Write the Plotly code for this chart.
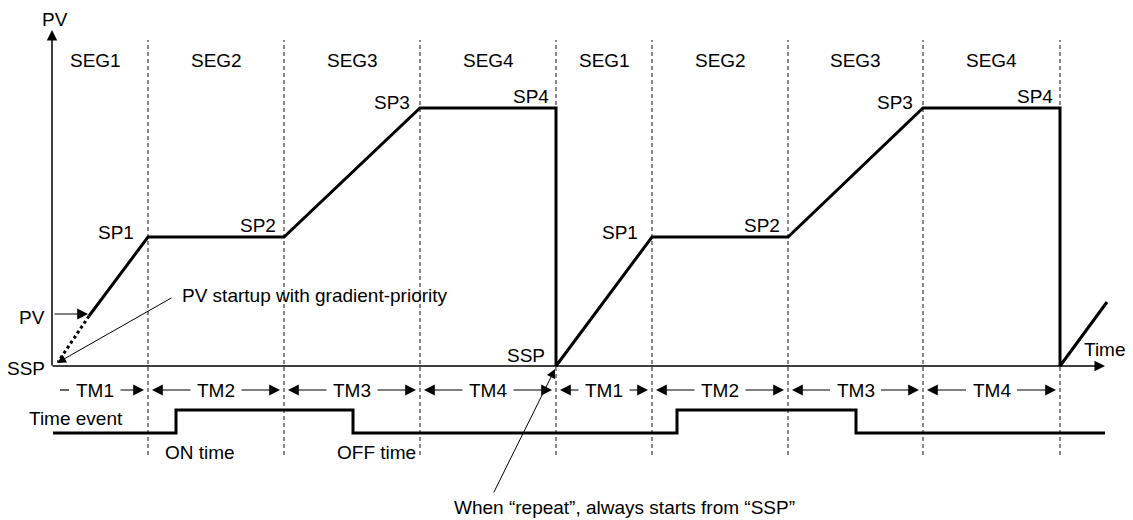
import plotly.graph_objects as go

# ---------------- data ----------------
seg_bounds = [0, 96, 232, 368, 504, 600, 736, 871, 1008]       # time at segment ends
seg_names = ["SEG1", "SEG2", "SEG3", "SEG4", "SEG1", "SEG2", "SEG3", "SEG4"]
tm_names = ["TM1", "TM2", "TM3", "TM4", "TM1", "TM2", "TM3", "TM4"]

pv_time = [37, 96, 232, 368, 504, 504, 600, 736, 871, 1008, 1008, 1055]
pv_value = [50, 129, 129, 258, 258, 0, 129, 129, 258, 258, 0, 64]
pv_start = [37, 50]           # PV at start
ssp_value = 0

sp_labels = ["SP1", "SP2", "SP3", "SP4", "SP1", "SP2", "SP3", "SP4"]
sp_time = [96, 232, 368, 504, 600, 736, 871, 1008]
sp_value = [129, 129, 258, 258, 129, 129, 258, 258]

event_time = [1, 124, 124, 301, 301, 625, 625, 804, 804, 1053]
event_state = [0, 0, 1, 1, 0, 0, 1, 1, 0, 0]
EV_LOW, EV_HIGH = -67, -44

FONT = dict(family="Liberation Sans, Arial, sans-serif", size=19, color="black")

fig = go.Figure()

# segment boundary dashed lines
for t in seg_bounds[1:]:
    fig.add_trace(go.Scatter(x=[t, t], y=[-89, 326], mode="lines",
                             line=dict(color="#111", width=1, dash="4px,3px"),
                             hoverinfo="skip", showlegend=False))

# dotted startup line
fig.add_trace(go.Scatter(x=[pv_start[0], 6], y=[pv_start[1], 4], mode="lines",
                         line=dict(color="black", width=3, dash="3px,3px"),
                         hoverinfo="skip", showlegend=False))

# PV profile
fig.add_trace(go.Scatter(x=pv_time, y=pv_value, mode="lines",
                         line=dict(color="black", width=3),
                         hoverinfo="skip", showlegend=False))

# time event
fig.add_trace(go.Scatter(x=event_time,
                         y=[EV_HIGH if s else EV_LOW for s in event_state],
                         mode="lines", line=dict(color="black", width=3),
                         hoverinfo="skip", showlegend=False))

ann = []

def arrow(x0, y0, x1, y1, w=1.5, size=1.2):
    ann.append(dict(x=x1, y=y1, ax=x0, ay=y0, xref="x", yref="y", axref="x", ayref="y",
                    text="", showarrow=True, arrowhead=2, arrowsize=size, arrowwidth=w,
                    arrowcolor="black", standoff=0, startstandoff=0))

def label(text, x, y, xanchor="center"):
    ann.append(dict(x=x, y=y, xref="x", yref="y", text=text, showarrow=False,
                    xanchor=xanchor, yanchor="middle", font=FONT))

# axes
arrow(0, -1, 0, 336, w=1.5, size=1.4)
arrow(-1, ssp_value, 1053, ssp_value, w=1.5, size=1.4)
label("PV", 3, 347)
label("Time", 1053, 17)

# segment labels and TM arrows
for i, name in enumerate(seg_names):
    a, b = seg_bounds[i], seg_bounds[i + 1]
    c = (a + b) / 2 if i > 0 else 43
    label(name, c, 306)
    label(tm_names[i], c, -24)
    if i == 0:
        fig.add_trace(go.Scatter(x=[8, 17], y=[-24, -24], mode="lines",
                                 line=dict(color="black", width=1.2),
                                 hoverinfo="skip", showlegend=False))
    else:
        arrow(c - 24, -24, a + 4, -24, w=1.2, size=1.8)
    arrow(c + 24, -24, b - 4, -24, w=1.2, size=1.8)

# SP labels
sp_offsets = {"SP1": (-12, 5), "SP2": (-6, 12), "SP3": (-8, 6), "SP4": (-5, 12)}
for name, t, v in zip(sp_labels, sp_time, sp_value):
    dx, dy = sp_offsets[name]
    label(name, t + dx, v + dy, xanchor="right")
label("SSP", 495, 11, xanchor="right")

# left labels
label("PV", -20, 49)
label("SSP", -26, -2)
arrow(1, 52, 36, 52, w=1.2, size=1.8)

# startup annotation
label("PV startup with gradient-priority", 128, 71, xanchor="left")
arrow(121, 69, 5, 3, w=1.0, size=1.8)

# time event labels
label("Time event", 24, -52)
label("ON time", 111, -86, xanchor="left")
label("OFF time", 283, -86, xanchor="left")

# repeat annotation
label("When \u201crepeat\u201d, always starts from \u201cSSP\u201d", 400, -141, xanchor="left")
arrow(441, -128, 503, -3, w=1.0, size=1.8)

# the page places the plot 8px from the window's top-left corner
fig.update_layout(
    width=1125, height=512,
    margin=dict(l=0, r=0, t=0, b=0),
    paper_bgcolor="white", plot_bgcolor="white",
    xaxis=dict(range=[-44, 1081], visible=False, fixedrange=True),
    yaxis=dict(range=[-154, 358], visible=False, fixedrange=True),
    annotations=ann,
    showlegend=False,
)

fig.write_html("out.html", config={"displayModeBar": False})
